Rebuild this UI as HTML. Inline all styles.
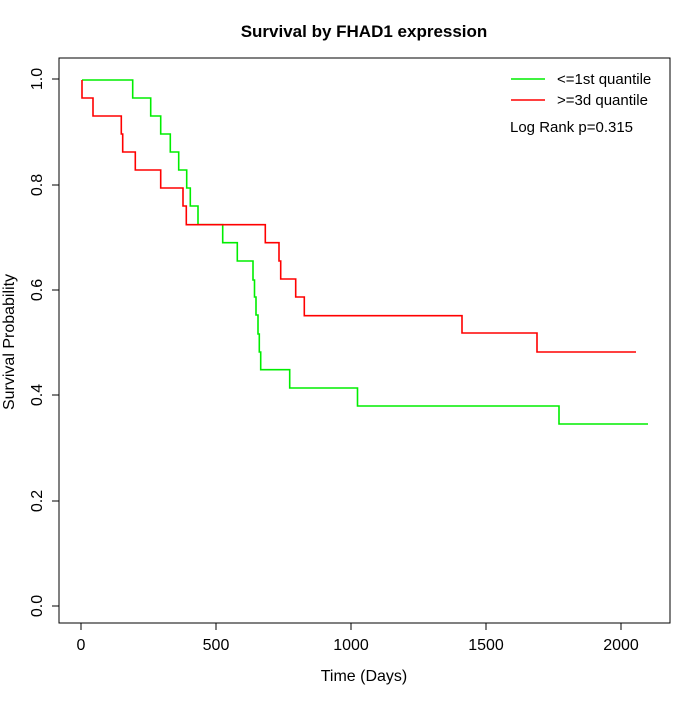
<!DOCTYPE html><html><head><style>body{margin:0;background:#fff}</style></head><body>
<svg width="700" height="700" xmlns="http://www.w3.org/2000/svg" font-family="Liberation Sans, sans-serif">
<rect width="700" height="700" fill="#fff"/>
<text x="364" y="37" text-anchor="middle" font-size="17" font-weight="bold">Survival by FHAD1 expression</text>
<rect x="59" y="58" width="611" height="565" fill="none" stroke="#000"/>
<g stroke="#000">
<line x1="81" y1="623" x2="81" y2="630"/><line x1="216" y1="623" x2="216" y2="630"/><line x1="351" y1="623" x2="351" y2="630"/><line x1="486" y1="623" x2="486" y2="630"/><line x1="621" y1="623" x2="621" y2="630"/>
<line x1="52" y1="79" x2="59" y2="79"/><line x1="52" y1="185" x2="59" y2="185"/><line x1="52" y1="290" x2="59" y2="290"/><line x1="52" y1="395" x2="59" y2="395"/><line x1="52" y1="501" x2="59" y2="501"/><line x1="52" y1="606" x2="59" y2="606"/>
</g>
<g font-size="16" text-anchor="middle">
<text x="81" y="650">0</text><text x="216" y="650">500</text><text x="351" y="650">1000</text><text x="486" y="650">1500</text><text x="621" y="650">2000</text>
<text x="364" y="681">Time (Days)</text>
</g>
<g font-size="16" text-anchor="middle">
<text transform="translate(42,79) rotate(-90)">1.0</text>
<text transform="translate(42,185) rotate(-90)">0.8</text>
<text transform="translate(42,290) rotate(-90)">0.6</text>
<text transform="translate(42,395) rotate(-90)">0.4</text>
<text transform="translate(42,501) rotate(-90)">0.2</text>
<text transform="translate(42,606) rotate(-90)">0.0</text>
<text transform="translate(14,342) rotate(-90)">Survival Probability</text>
</g>
<path fill="none" stroke="#00ee00" stroke-width="1.6" d="M82,80H132.7V98H150.7V116H160.7V134H170.3V152H178.7V170H186.7V188H190.3V206H198V224.7H222.7V242.7H237.3V261H253V280H254.5V297H256V315H258V334H259.3V352H260.7V369.7H289.7V388H357.5V406H559V424H648"/>
<path fill="none" stroke="#ff0000" stroke-width="1.6" d="M82,80V98H93V116H121.3V134H122.7V152H135.3V170H160.7V188H183V206H186.3V224.7H265.3V242.7H279V261H280.7V279H295.7V297H304.3V315.7H462V333H537V352H636"/>
<line x1="511" y1="79" x2="545" y2="79" stroke="#00ee00" stroke-width="1.6"/>
<line x1="511" y1="100" x2="545" y2="100" stroke="#ff0000" stroke-width="1.6"/>
<g font-size="15"><text x="557" y="84">&lt;=1st quantile</text><text x="557" y="105">&gt;=3d quantile</text><text x="510" y="132">Log Rank p=0.315</text></g>
</svg></body></html>
